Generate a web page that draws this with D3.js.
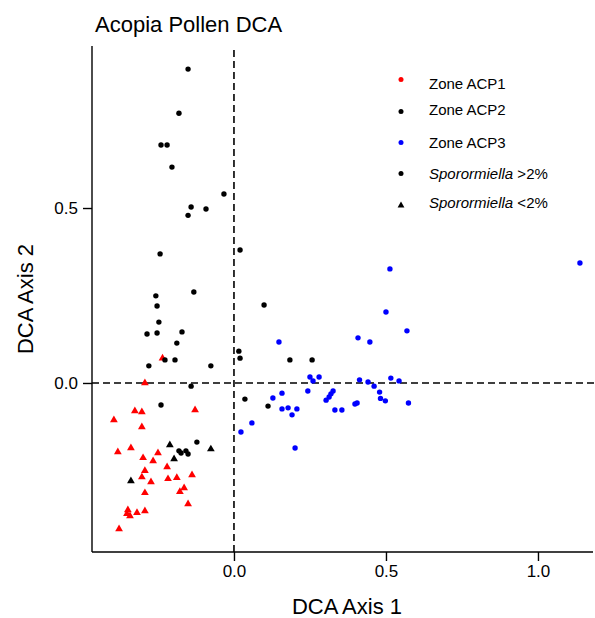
<!DOCTYPE html>
<html>
<head>
<meta charset="utf-8">
<script src="https://cdn.jsdelivr.net/npm/d3@7"></script>
<style>
  html, body { margin: 0; padding: 0; background: #fff; }
  svg { display: block; font-family: "Liberation Sans", Arial, sans-serif; }
</style>
</head>
<body>
<svg id="chart" width="595" height="618"></svg>
<script>
// ---- Data (DCA axis 1, DCA axis 2) ----
const acp1Low = [
  [-0.293, 0.000], [-0.235, 0.071], [-0.326, -0.080], [-0.303, -0.083], [-0.128, -0.077],
  [-0.395, -0.106], [-0.303, -0.126], [-0.382, -0.197], [-0.339, -0.186], [-0.299, -0.214],
  [-0.250, -0.200], [-0.266, -0.223], [-0.220, -0.240], [-0.293, -0.251], [-0.303, -0.269],
  [-0.273, -0.283], [-0.217, -0.274], [-0.188, -0.271], [-0.138, -0.263], [-0.164, -0.300],
  [-0.178, -0.311], [-0.293, -0.314], [-0.151, -0.346], [-0.349, -0.363], [-0.352, -0.374],
  [-0.342, -0.380], [-0.319, -0.371], [-0.293, -0.366], [-0.378, -0.417]
];
const acp2High = [
  [-0.151, 0.897], [-0.181, 0.771], [-0.240, 0.680], [-0.220, 0.680], [-0.204, 0.617],
  [-0.033, 0.540], [-0.141, 0.503], [-0.092, 0.497], [-0.151, 0.479], [-0.243, 0.369],
  [0.020, 0.380], [-0.132, 0.260], [-0.257, 0.249], [-0.253, 0.220], [0.099, 0.223],
  [-0.247, 0.174], [-0.286, 0.140], [-0.253, 0.143], [-0.171, 0.146], [-0.188, 0.114],
  [0.016, 0.091], [0.020, 0.071], [-0.227, 0.066], [-0.194, 0.066], [-0.280, 0.049],
  [-0.076, 0.049], [0.184, 0.066], [0.257, 0.066], [-0.141, -0.009], [-0.240, -0.063],
  [0.036, -0.046], [0.112, -0.066], [-0.122, -0.169], [-0.181, -0.194], [-0.174, -0.200],
  [-0.158, -0.194], [-0.151, -0.203]
];
const acp2Low = [
  [-0.211, -0.177], [-0.076, -0.189], [-0.197, -0.217], [-0.339, -0.280]
];
const acp3High = [
  [0.148, 0.117], [0.408, 0.129], [0.447, 0.117], [0.569, 0.149], [0.513, 0.326],
  [1.138, 0.343], [0.500, 0.203], [0.250, 0.017], [0.260, 0.006], [0.280, 0.017],
  [0.413, 0.009], [0.441, 0.003], [0.516, 0.014], [0.543, 0.006], [0.158, -0.029],
  [0.128, -0.043], [0.243, -0.023], [0.326, -0.023], [0.319, -0.031], [0.313, -0.040],
  [0.303, -0.049], [0.461, -0.009], [0.479, -0.026], [0.482, -0.044], [0.498, -0.051],
  [0.574, -0.057], [0.158, -0.074], [0.178, -0.071], [0.207, -0.074], [0.191, -0.091],
  [0.332, -0.077], [0.355, -0.077], [0.398, -0.060], [0.405, -0.057], [0.059, -0.114],
  [0.023, -0.140], [0.201, -0.186]
];
const xTicks = [0.0, 0.5, 1.0];
const yTicks = [0.0, 0.5];
const legendLabels = ["Zone ACP1", "Zone ACP2", "Zone ACP3", "Sporormiella|>2%", "Sporormiella|<2%"];
const legendColors = ["#ff0000", "#000000", "#0000ff", "#000000", "#000000"];
const legendShapes = ["circle", "circle", "circle", "circle", "triangle"];

(function () {
  // ---- Layout ----
  const svg = d3.select("#chart");
  const pL = 92, pR = 593, pT = 46, pB = 552;
  const x = d3.scaleLinear().domain([-0.467, 1.181]).range([pL, pR]);
  const y = d3.scaleLinear().domain([-0.483, 0.963]).range([pB, pT]);

  // Title
  svg.append("text").attr("x", 95).attr("y", 32).attr("font-size", 22).attr("fill", "#000")
    .text("Acopia Pollen DCA");

  // Axes
  const xAxis = svg.append("g").attr("transform", `translate(0,${pB})`)
    .call(d3.axisBottom(x).tickValues(xTicks).tickFormat(d3.format(".1f")).tickSize(9).tickSizeOuter(0).tickPadding(4));
  const yAxis = svg.append("g").attr("transform", `translate(${pL},0)`)
    .call(d3.axisLeft(y).tickValues(yTicks).tickFormat(d3.format(".1f")).tickSize(9).tickSizeOuter(0).tickPadding(5));
  [xAxis, yAxis].forEach(g => {
    g.selectAll("path.domain").attr("stroke", "#000").attr("stroke-width", 1.4);
    g.selectAll(".tick line").attr("stroke", "#000").attr("stroke-width", 1.4);
    g.selectAll(".tick text").attr("font-size", 17).attr("fill", "#000")
      .attr("font-family", "'Liberation Sans', Arial, sans-serif");
  });
  xAxis.select("path.domain").attr("d", `M${pL},0H${pR}`);
  yAxis.select("path.domain").attr("d", `M0,${pT}V${pB}`);

  // Axis titles
  svg.append("text").attr("x", 347).attr("y", 614).attr("text-anchor", "middle")
    .attr("font-size", 22).attr("fill", "#000").text("DCA Axis 1");
  svg.append("text").attr("transform", `translate(33,${(pT + pB) / 2}) rotate(-90)`)
    .attr("text-anchor", "middle").attr("font-size", 22).attr("fill", "#000").text("DCA Axis 2");

  // Zero reference lines
  svg.append("line").attr("x1", x(0)).attr("x2", x(0)).attr("y1", pT + 4).attr("y2", pB)
    .attr("stroke", "#000").attr("stroke-width", 1.6).attr("stroke-dasharray", "7,4");
  svg.append("line").attr("x1", pL).attr("x2", pR + 2).attr("y1", y(0)).attr("y2", y(0))
    .attr("stroke", "#000").attr("stroke-width", 1.6).attr("stroke-dasharray", "7,4");

  // Symbols
  const tri = d3.symbol().type(d3.symbolTriangle).size(26);
  const triLegend = d3.symbol().type(d3.symbolTriangle).size(20);

  function circles(data, color) {
    svg.append("g").selectAll("circle").data(data).join("circle")
      .attr("cx", d => x(d[0])).attr("cy", d => y(d[1])).attr("r", 2.7).attr("fill", color);
  }
  function triangles(data, color) {
    svg.append("g").selectAll("path").data(data).join("path")
      .attr("d", tri).attr("transform", d => `translate(${x(d[0])},${y(d[1])})`).attr("fill", color);
  }
  triangles(acp1Low, "#ff0000");
  circles(acp2High, "#000000");
  triangles(acp2Low, "#000000");
  circles(acp3High, "#0000ff");

  // Legend
  const legendMarkerY = [79.5, 111.5, 142.5, 173.5, 205.5];
  const legendTextY = [88.5, 115, 148, 178.5, 207.5];
  legendLabels.forEach((lab, i) => {
    if (legendShapes[i] === "circle") {
      svg.append("circle").attr("cx", 401).attr("cy", legendMarkerY[i]).attr("r", 2.5).attr("fill", legendColors[i]);
    } else {
      svg.append("path").attr("d", triLegend).attr("transform", `translate(401,${legendMarkerY[i]})`).attr("fill", legendColors[i]);
    }
    const t = svg.append("text").attr("x", 429).attr("y", legendTextY[i]).attr("font-size", 15).attr("fill", "#000");
    const parts = lab.split("|");
    if (parts.length === 2) {
      t.append("tspan").attr("font-style", "italic").text(parts[0]);
      t.append("tspan").text(" " + parts[1]);
    } else {
      t.text(lab);
    }
  });
})();
</script>
</body>
</html>
